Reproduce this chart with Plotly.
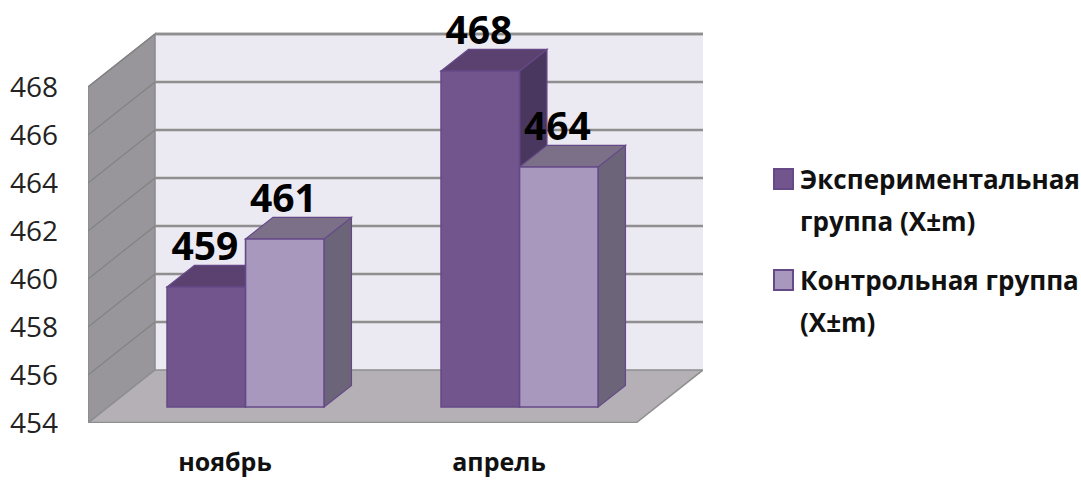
import plotly.graph_objects as go

categories = ["ноябрь", "апрель"]
series_names = ["Экспериментальная группа (X±m)", "Контрольная группа (X±m)"]
legend_lines = [["Экспериментальная", "группа (X±m)"], ["Контрольная группа", "(X±m)"]]
experimental = [459, 468]
control = [461, 464]
y_ticks = [454, 456, 458, 460, 462, 464, 466, 468]

# 3D box geometry, in axis units
Y0 = 454
Y_TOP = 468
WALL_DX, WALL_DY = 0.2445, 2.21
X_MAX = 2.0 + WALL_DX
FLOOR_LIFT = 0.667
BAR_W = 0.2865
BAR_DX, BAR_DY = 0.1, 0.9
GROUP_SHIFT = 0.075
LABEL_LIFT = 1.53
LABEL_DX = -0.005

# page layout
FIG_W, FIG_H = 1081, 480
PLOT_L, PLOT_W = 88, 615
PLOT_T, PLOT_H = 8, 415
PLOT_B = PLOT_T + PLOT_H
PX_PER_UNIT = 24

WALL_BACK = "#ebe9f1"
WALL_LEFT = "#98969b"
FLOOR = "#b4b0b5"
GRID = "#8f8f8f"
EDGE = "#664a88"
FRONT = ["#72558d", "#a998bd"]
TOP = ["#5a4170", "#7c7089"]
SIDE = ["#4a3760", "#6c6479"]


def poly(points, fill, line=None, width=1.0):
    path = "M" + " L".join(f"{x},{y}" for x, y in points) + " Z"
    return dict(type="path", path=path, xref="x", yref="y", layer="below",
                fillcolor=fill, line=dict(color=line or fill, width=width))


def seg(p, q, color, width):
    return dict(type="line", x0=p[0], y0=p[1], x1=q[0], y1=q[1], xref="x", yref="y",
                layer="below", line=dict(color=color, width=width))


def px_x(px):
    return (px - PLOT_L) / PLOT_W


def px_y(py):
    return (PLOT_B - py) / PLOT_H


shapes = [
    poly([(WALL_DX, Y0 + WALL_DY), (X_MAX, Y0 + WALL_DY), (X_MAX, Y_TOP + WALL_DY), (WALL_DX, Y_TOP + WALL_DY)], WALL_BACK),
    poly([(0, Y0), (WALL_DX, Y0 + WALL_DY), (WALL_DX, Y_TOP + WALL_DY), (0, Y_TOP)], WALL_LEFT, "#8a8a8c", 1.5),
    poly([(0, Y0), (2, Y0), (X_MAX, Y0 + WALL_DY), (WALL_DX, Y0 + WALL_DY)], FLOOR, "#8f8f8f", 1.5),
]
for t in y_ticks[1:]:
    shapes.append(seg((0, t), (WALL_DX, t + WALL_DY), "#828285", 1.2))
    shapes.append(seg((WALL_DX, t + WALL_DY), (X_MAX, t + WALL_DY), GRID, 2.4))
shapes.append(seg((WALL_DX, Y_TOP + WALL_DY), (X_MAX, Y_TOP + WALL_DY), GRID, 2.4))
shapes.append(seg((0, Y0), (2, Y0), "#8f8f8f", 2.4))

base = Y0 + FLOOR_LIFT
series = [experimental, control]
xs = [[i + 0.5 + GROUP_SHIFT + (s - 0.5) * BAR_W for i in range(len(categories))] for s in range(2)]

for i in range(len(categories)):
    for s in range(2):
        x = xs[s][i]
        l, r = x - BAR_W / 2, x + BAR_W / 2
        top = series[s][i] + FLOOR_LIFT
        shapes.append(poly([(r, base), (r + BAR_DX, base + BAR_DY), (r + BAR_DX, top + BAR_DY), (r, top)],
                           SIDE[s], EDGE, 1.2))
        shapes.append(poly([(l, top), (r, top), (r + BAR_DX, top + BAR_DY), (l + BAR_DX, top + BAR_DY)],
                           TOP[s], EDGE, 1.2))

# legend: swatches and text lines, spaced as in the reference
SWATCH_L, SWATCH_R = 773, 794
SWATCH_Y = [179, 280]
LINE_Y = [[179, 221], [280, 322]]
TEXT_X = 798
annotations = []
for s in range(2):
    shapes.append(dict(type="rect", xref="paper", yref="paper", layer="above",
                       x0=px_x(SWATCH_L + 1), x1=px_x(SWATCH_R - 1),
                       y0=px_y(SWATCH_Y[s] + 10), y1=px_y(SWATCH_Y[s] - 10),
                       fillcolor=FRONT[s], line=dict(color=EDGE, width=2)))
    for text, py in zip(legend_lines[s], LINE_Y[s]):
        annotations.append(dict(text=text, xref="paper", yref="paper", x=px_x(TEXT_X), y=px_y(py),
                                xanchor="left", yanchor="middle", showarrow=False, align="left",
                                font=dict(family="Open Sans", size=26, weight="bold", color="#111111")))

fig = go.Figure()
for s in range(2):
    fig.add_trace(go.Bar(
        x=xs[s], y=[v - Y0 for v in series[s]], base=base, width=BAR_W,
        name=series_names[s], marker=dict(color=FRONT[s], line=dict(color=EDGE, width=1.6)),
        hoverinfo="skip", showlegend=False,
    ))
for s in range(2):
    fig.add_trace(go.Scatter(
        x=[x + LABEL_DX for x in xs[s]], y=[v + FLOOR_LIFT + LABEL_LIFT for v in series[s]],
        text=[str(v) for v in series[s]], mode="text", cliponaxis=False, showlegend=False,
        textposition="middle center", hoverinfo="skip",
        textfont=dict(family="Open Sans", size=39, color="#000000", weight="bold"),
    ))

fig.update_layout(
    width=FIG_W, height=FIG_H, autosize=False,
    margin=dict(l=PLOT_L, r=FIG_W - PLOT_L - PLOT_W, t=PLOT_T, b=FIG_H - PLOT_T - PLOT_H, pad=0,
                autoexpand=False),
    paper_bgcolor="#ffffff", plot_bgcolor="#ffffff",
    barmode="overlay", shapes=shapes, annotations=annotations,
    font=dict(family="Open Sans", color="#111111"),
    xaxis=dict(range=[0, X_MAX], tickmode="array", tickvals=[0.5, 1.5], ticktext=categories,
               showgrid=False, zeroline=False, showline=False, ticks="", ticklabelstandoff=22,
               automargin=False,
               tickfont=dict(family="Open Sans", size=25, weight="bold", color="#111111")),
    yaxis=dict(range=[Y0, Y0 + PLOT_H / PX_PER_UNIT], tickmode="array", tickvals=y_ticks, showgrid=False,
               zeroline=False, showline=False, ticks="", ticklabelstandoff=29, automargin=False,
               tickfont=dict(family="Open Sans", size=28, color="#222222")),
    showlegend=False,
)

fig.write_html("out.html", config={"displayModeBar": False},
               post_script="document.body.style.margin='0';document.documentElement.style.overflow='hidden';")
